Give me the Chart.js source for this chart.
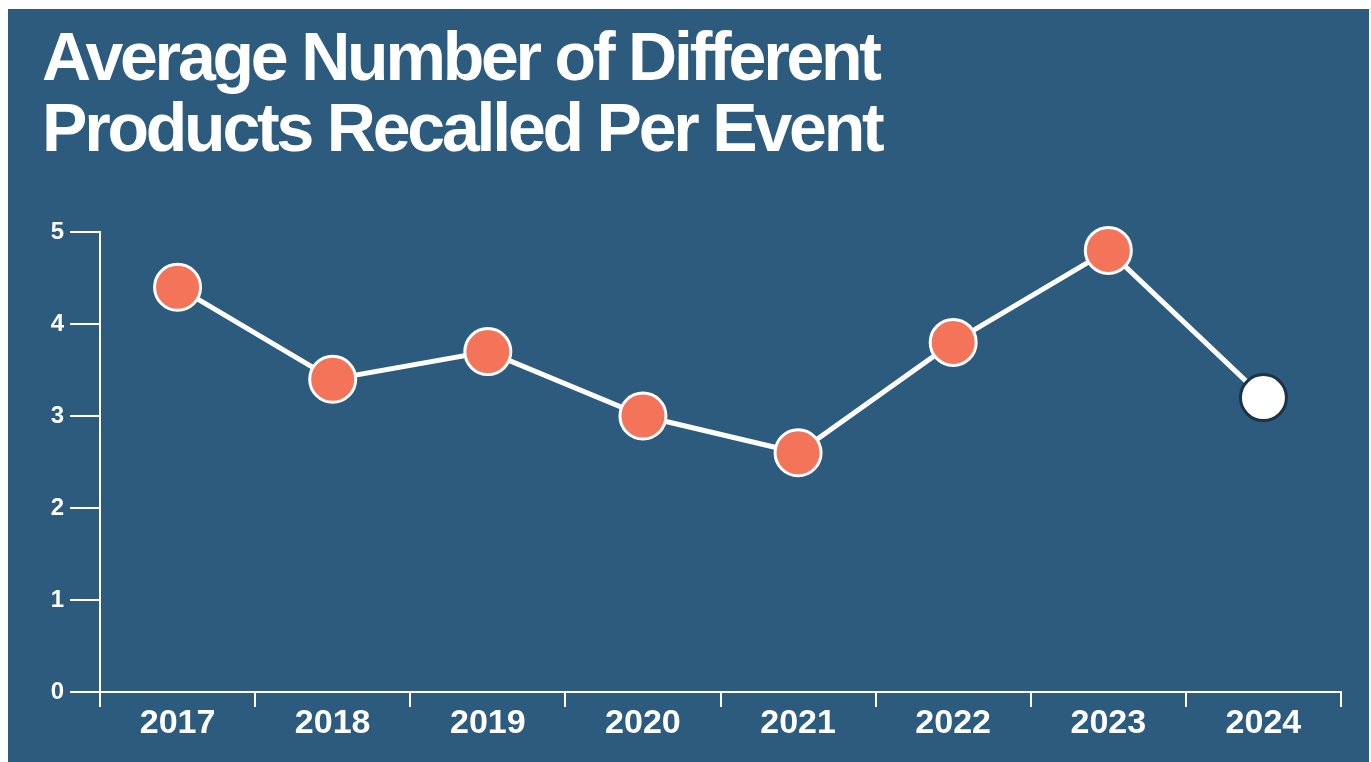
<!DOCTYPE html>
<html>
<head>
<meta charset="utf-8">
<script src="https://cdn.jsdelivr.net/npm/chart.js@4/dist/chart.umd.min.js"></script>
<style>
  html, body { margin: 0; padding: 0; background: #ffffff; width: 1371px; height: 762px; overflow: hidden; }
  #panel { position: absolute; left: 8px; top: 9px; width: 1361px; height: 753px; background: #2c5b7e; }
  h1 { position: absolute; left: 34px; top: 12px; margin: 0; color: #ffffff;
       font-family: "Liberation Sans", Arial, sans-serif; font-weight: bold; font-size: 68px;
       line-height: 71px; letter-spacing: -3.2px; }
  #wrap { position: absolute; left: 0; top: 0; width: 1361px; height: 753px; }
</style>
</head>
<body>
<div id="panel">
  <h1>Average Number of Different<br>Products Recalled Per Event</h1>
  <div id="wrap"><canvas id="c"></canvas></div>
</div>
<script>
const categories = ["2017", "2018", "2019", "2020", "2021", "2022", "2023", "2024"];
const recalledValues = [4.4, 3.4, 3.7, 3.0, 2.6, 3.8, 4.8, 3.2];
const yTickValues = [0, 1, 2, 3, 4, 5];
const highlightIndex = 7;

const orange = "#f4745a";
const pointFill = recalledValues.map((v, i) => i === highlightIndex ? "#ffffff" : orange);
const pointEdge = recalledValues.map((v, i) => i === highlightIndex ? "#1c3346" : "#ffffff");

new Chart(document.getElementById("c"), {
  type: "line",
  data: {
    labels: categories,
    datasets: [{
      data: recalledValues,
      borderColor: "#ffffff",
      borderWidth: 5,
      tension: 0,
      pointRadius: 23,
      pointHoverRadius: 23,
      pointBorderWidth: 3,
      pointBackgroundColor: pointFill,
      pointBorderColor: pointEdge,
      clip: false
    }]
  },
  options: {
    responsive: true,
    maintainAspectRatio: false,
    animation: false,
    layout: { padding: { top: 223, right: 28, bottom: 0, left: 0 } },
    plugins: { legend: { display: false }, tooltip: { enabled: false }, title: { display: false } },
    scales: {
      x: {
        type: "category",
        offset: true,
        border: { display: true, color: "#ffffff", width: 2 },
        grid: { display: true, offset: true, drawOnChartArea: false, drawTicks: true, tickLength: 15, color: "#ffffff", lineWidth: 2 },
        ticks: { color: "#ffffff", padding: -4, font: { family: "Liberation Sans, Arial, sans-serif", weight: "bold", size: 34 } },
        afterFit: (s) => { s.height = 70; }
      },
      y: {
        min: 0, max: 5,
        border: { display: true, color: "#ffffff", width: 2 },
        grid: { display: true, drawOnChartArea: false, drawTicks: true, tickLength: 30, color: "#ffffff", lineWidth: 2 },
        afterBuildTicks: (s) => { s.ticks = yTickValues.map(v => ({ value: v })); },
        ticks: { color: "#ffffff", padding: 6, font: { family: "Liberation Sans, Arial, sans-serif", weight: "bold", size: 24 } },
        afterFit: (s) => { s.width = 92; }
      }
    }
  }
});
</script>
</body>
</html>
